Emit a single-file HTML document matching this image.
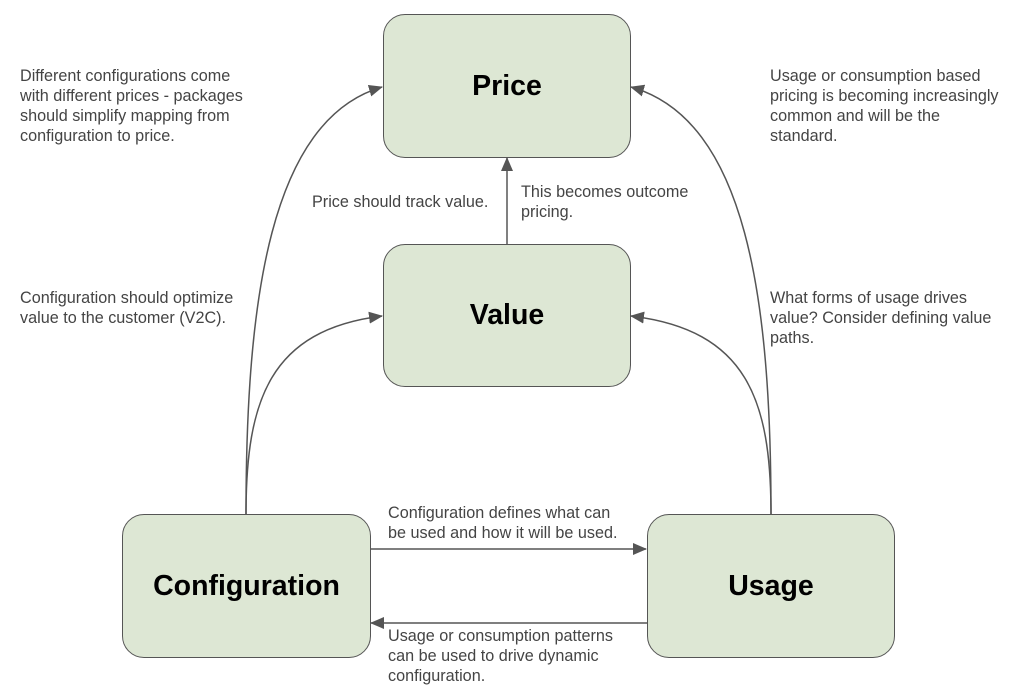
<!DOCTYPE html>
<html><head><style>
body{margin:0;background:#fff;}
.w{position:relative;width:1024px;height:697px;font-family:"Liberation Sans",Arial,sans-serif;overflow:hidden}
.b{position:absolute;box-sizing:border-box;background:#dde7d4;border:1.5px solid #555;border-radius:22px;display:flex;align-items:center;justify-content:center;font-weight:bold;font-size:28.5px;color:#000}
.t{position:absolute;font-size:16.2px;line-height:20px;color:#444;white-space:nowrap}
svg{position:absolute;left:0;top:0}
</style></head><body><div class="w">
<svg width="1024" height="697">
<defs><marker id="a" markerWidth="14" markerHeight="12" refX="13" refY="6" orient="auto" markerUnits="userSpaceOnUse"><path d="M0,0 L14,6 L0,12 z" fill="#555"/></marker></defs>
<g stroke="#555" stroke-width="1.5" fill="none" marker-end="url(#a)">
<path d="M246,514 C246,300 270,120 382,87"/>
<path d="M246,514 C246,400 270,330 382,316"/>
<path d="M771,514 C771,300 747,120 631,87"/>
<path d="M771,514 C771,400 747,330 631,316"/>
<path d="M507,244 L507,158"/>
<path d="M370,549 L646,549"/>
<path d="M647,623 L371,623"/>
</g></svg>
<div class="b" style="left:383px;top:14px;width:248px;height:144px">Price</div>
<div class="b" style="left:383px;top:244px;width:248px;height:143px">Value</div>
<div class="b" style="left:122px;top:514px;width:249px;height:144px">Configuration</div>
<div class="b" style="left:647px;top:514px;width:248px;height:144px">Usage</div>
<div class="t" style="left:20px;top:66px">Different configurations come<br>with different prices - packages<br>should simplify mapping from<br>configuration to price.</div>
<div class="t" style="left:770px;top:66px">Usage or consumption based<br>pricing is becoming increasingly<br>common and will be the<br>standard.</div>
<div class="t" style="left:312px;top:192px">Price should track value.</div>
<div class="t" style="left:521px;top:182px">This becomes outcome<br>pricing.</div>
<div class="t" style="left:20px;top:288px">Configuration should optimize<br>value to the customer (V2C).</div>
<div class="t" style="left:770px;top:288px">What forms of usage drives<br>value? Consider defining value<br>paths.</div>
<div class="t" style="left:388px;top:503px">Configuration defines what can<br>be used and how it will be used.</div>
<div class="t" style="left:388px;top:626px">Usage or consumption patterns<br>can be used to drive dynamic<br>configuration.</div>
</div></body></html>
